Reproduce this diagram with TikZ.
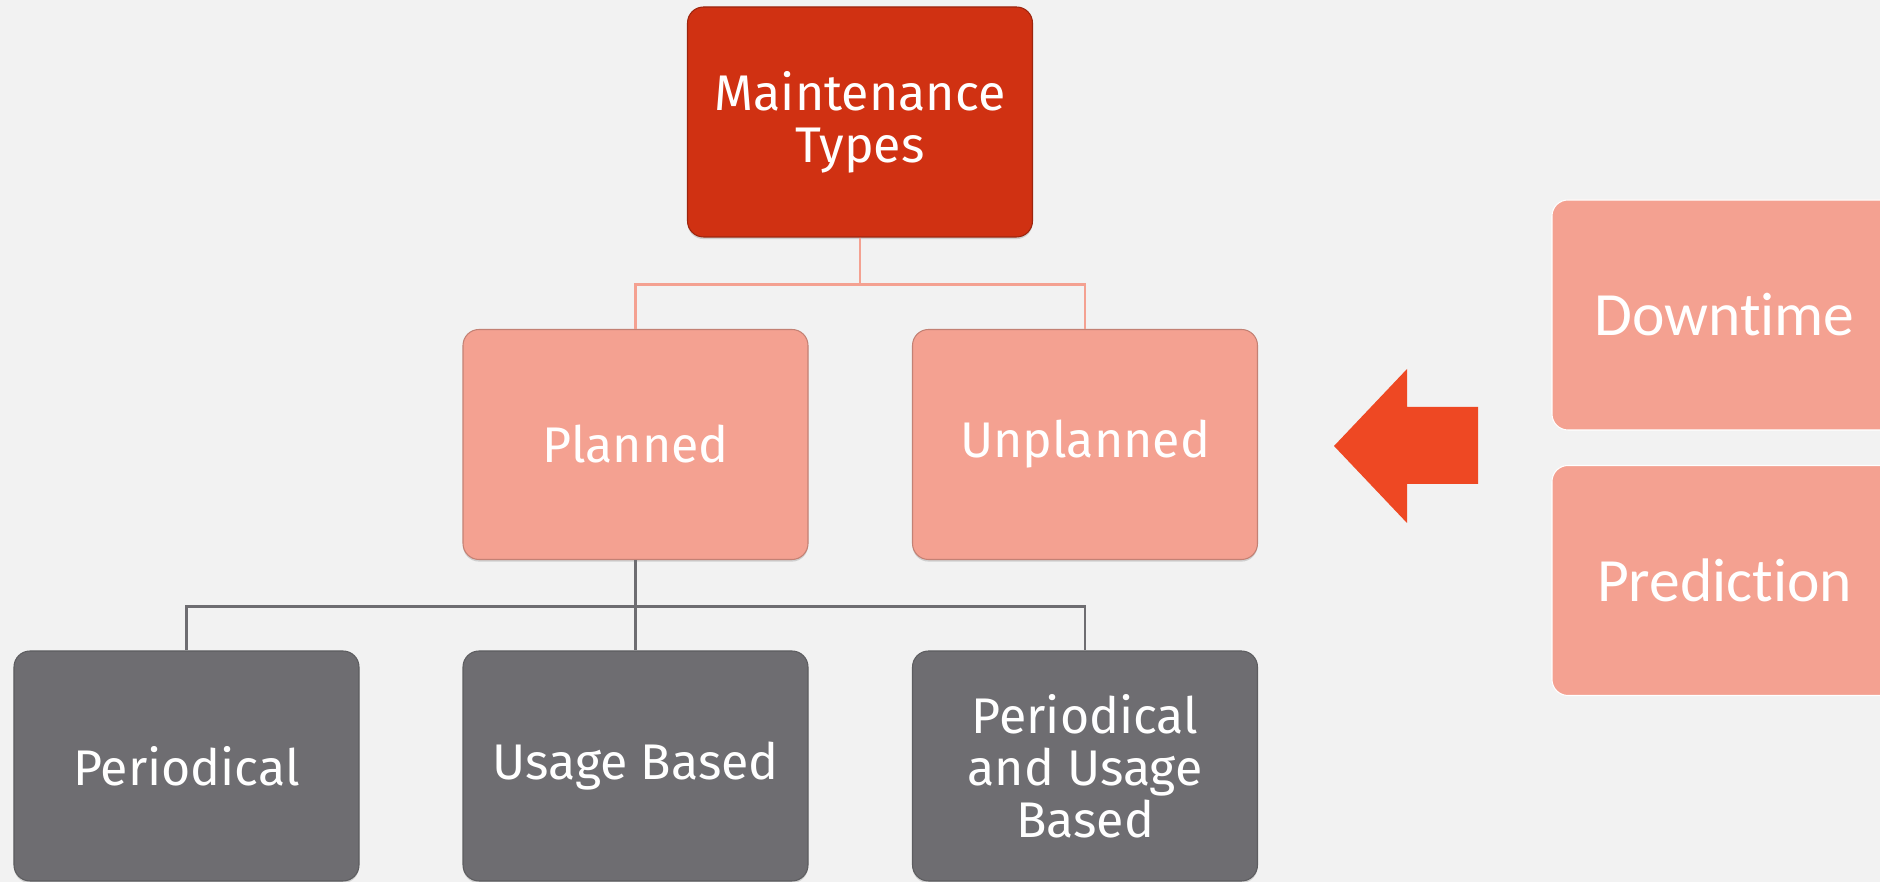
\documentclass[tikz,border=0pt]{standalone}
\usepackage{fontspec}
\setmainfont{Fira Sans}
\newfontfamily\sidefont[Ligatures=NoCommon]{Carlito}
\usetikzlibrary{shadows}

\definecolor{bgcol}{HTML}{F2F2F2}
\definecolor{rootred}{HTML}{D03112}
\definecolor{salmon}{HTML}{F4A191}
\definecolor{slate}{HTML}{6E6D71}
\definecolor{arrowred}{HTML}{EE4823}

\tikzset{
  box/.style={rectangle, rounded corners=0.32cm, minimum width=6.9cm,
    minimum height=4.6cm, text=white, align=center, line width=0.6pt,
    font=\fontsize{28.5}{29.6}\selectfont},
  boxshadow/.style={drop shadow={shadow xshift=0pt, shadow yshift=-1.2pt, opacity=0.3}},
  rootbox/.style={box, boxshadow, fill=rootred, draw=rootred!75!black},
  midbox/.style={box, boxshadow, fill=salmon, draw=salmon!80!black},
  leafbox/.style={box, boxshadow, fill=slate, draw=slate!85!black},
  sidebox/.style={box, fill=salmon, draw=white, font=\sidefont\fontsize{35}{40}\selectfont},
  rootlink/.style={draw=salmon, line width=1.3pt},
  leaflink/.style={draw=slate, line width=1.2pt}
}

\begin{document}
\begin{tikzpicture}
\fill[bgcol] (0,0) rectangle (37.6,17.64);
\useasboundingbox (0,0) rectangle (37.6,17.64);

% tree
\node[rootbox] (types) at (17.2,15.2) {Maintenance\\Types};
\node[midbox] (planned) at (12.71,8.75) {Planned};
\node[midbox] (unplanned) at (21.7,8.75) {Unplanned};
\node[leafbox] (periodical) at (3.73,2.32) {Periodical};
\node[leafbox] (usage) at (12.71,2.32) {Usage Based};
\node[leafbox] (both) at (21.7,2.32) {Periodical\\and Usage\\Based};

\draw[rootlink] (types.south) -- ++(0,-0.94) -| (planned.north);
\draw[rootlink] (types.south) -- ++(0,-0.94) -| (unplanned.north);
\foreach \leaf in {periodical,usage,both}
  \draw[leaflink] (planned.south) -- ++(0,-0.93) -| (\leaf.north);

% side boxes and arrow
\node[sidebox] (downtime) at (34.49,11.34) {Downtime};
\node[sidebox] (prediction) at (34.49,6.03) {Prediction};

\fill[arrowred] (26.68,8.72) -- (28.14,10.26) -- (28.14,9.5) -- (29.56,9.5)
  -- (29.56,7.96) -- (28.14,7.96) -- (28.14,7.18) -- cycle;
\end{tikzpicture}
\end{document}
